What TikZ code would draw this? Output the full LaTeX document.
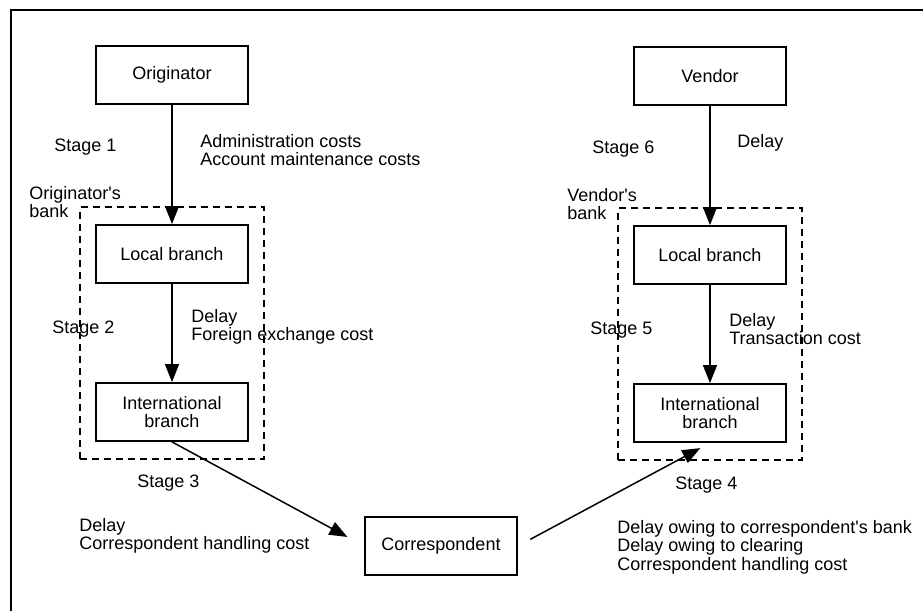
\documentclass[tikz,border=0pt]{standalone}
\usepackage{fontspec}
\setmainfont{Liberation Sans}
\usetikzlibrary{arrows.meta,fit}
\begin{document}
\begin{tikzpicture}[x=0.5pt,y=-0.5pt,
  every node/.style={font=\fontsize{9}{9.2}\selectfont},
  boxnode/.style={draw,line width=0.9pt,minimum width=76pt,minimum height=29pt,align=center,inner sep=1pt},
  lbl/.style={anchor=west,align=left,inner sep=0pt},
  arr/.style={line width=0.75pt,-{Triangle[length=9pt,width=7pt]}},
  bankbox/.style={draw,line width=0.7pt,dash pattern=on 3.5pt off 2.5pt,inner xsep=7.5pt,inner ysep=8.5pt}]
\useasboundingbox (0,0) rectangle (923,611);
% outer frame
\draw[line width=0.9pt] (11,611) -- (11,10) -- (923,10);
% left column
\node[boxnode] (orig) at (172,75) {Originator};
\node[boxnode] (lb1) at (172,254) {Local branch};
\node[boxnode] (ib1) at (172,412) {International\\branch};
\node[bankbox,fit=(lb1)(ib1)] (bank1) {};
% right column
\node[boxnode] (vend) at (710,76) {Vendor};
\node[boxnode] (lb2) at (710,255) {Local branch};
\node[boxnode] (ib2) at (710,413) {International\\branch};
\node[bankbox,fit=(lb2)(ib2)] (bank2) {};
% correspondent
\node[boxnode] (corr) at (441,546) {Correspondent};
% arrows
\draw[arr] (orig) -- (lb1);
\draw[arr] (lb1) -- (ib1);
\draw[arr,shorten >=9.5pt] (ib1.south) -- (corr.west);
\draw[arr,shorten <=7pt,shorten >=5.5pt] (corr.east) -- (ib2.south);
\draw[arr] (vend) -- (lb2);
\draw[arr] (lb2) -- (ib2);
% labels left
\node[lbl] (s1) at (54,147) {Stage 1};
\node[lbl] (c1) at (200,150) {Administration costs\\Account maintenance costs};
\node[lbl] (ob) at (29,202) {Originator\textquotesingle s\\bank};
\node[lbl] (s2) at (52,329) {Stage 2};
\node[lbl] (c2) at (191,327) {Delay\\Foreign exchange cost};
\node[lbl] (s3) at (137,483) {Stage 3};
\node[lbl] (c3) at (79,536) {Delay\\Correspondent handling cost};
% labels right
\node[lbl] (s6) at (592,149) {Stage 6};
\node[lbl] (c6) at (737,143) {Delay};
\node[lbl] (vb) at (567,204) {Vendor\textquotesingle s\\bank};
\node[lbl] (s5) at (590,330) {Stage 5};
\node[lbl] (c5) at (729,329) {Delay\\Transaction cost};
\node[lbl] (s4) at (675,485) {Stage 4};
\node[lbl] (c4) at (617,547) {Delay owing to correspondent\textquotesingle s bank\\Delay owing to clearing\\Correspondent handling cost};
\end{tikzpicture}
\end{document}
